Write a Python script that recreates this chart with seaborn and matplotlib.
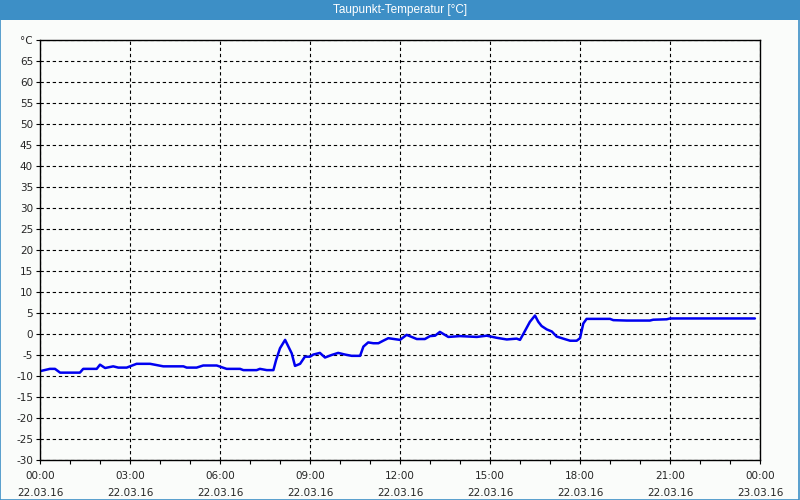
import matplotlib
matplotlib.use("Agg")
import matplotlib.pyplot as plt
import seaborn as sns
import pandas as pd
from matplotlib.patches import Rectangle

# ---- data (hours since 22.03.16 00:00, dew point in °C) ----
hours = [0.03, 0.33, 0.5, 0.67, 1.33, 1.44, 1.89, 2.0, 2.17, 2.44, 2.61, 2.89, 3.0,
         3.22, 3.67, 4.11, 4.78, 4.89, 5.22, 5.44, 5.89, 6.22, 6.67, 6.78, 7.22,
         7.33, 7.56, 7.78, 7.87, 8.0, 8.17, 8.39, 8.5, 8.67, 8.83, 9.0, 9.11, 9.33,
         9.5, 9.72, 9.94, 10.17, 10.39, 10.67, 10.78, 10.94, 11.11, 11.28, 11.44,
         11.61, 12.0, 12.22, 12.56, 12.83, 13.0, 13.17, 13.33, 13.61, 14.0, 14.56,
         14.89, 15.22, 15.56, 15.89, 16.0, 16.11, 16.33, 16.5, 16.61, 16.72, 16.89,
         17.06, 17.22, 17.44, 17.67, 17.89, 18.0, 18.11, 18.22, 19.0, 19.11, 19.56,
         20.33, 20.44, 20.89, 21.0, 23.83]
dewpoint = [-8.8, -8.3, -8.3, -9.2, -9.2, -8.3, -8.3, -7.3, -8.1, -7.7, -8.0, -8.0, -7.7,
            -7.1, -7.1, -7.7, -7.7, -8.0, -8.0, -7.5, -7.5, -8.3, -8.3, -8.6, -8.6,
            -8.3, -8.6, -8.6, -6.2, -3.4, -1.4, -4.6, -7.6, -7.1, -5.4, -5.4, -4.9, -4.5,
            -5.6, -5.0, -4.5, -4.9, -5.2, -5.2, -3.0, -2.0, -2.2, -2.2, -1.6,
            -1.0, -1.4, -0.2, -1.2, -1.2, -0.5, -0.4, 0.5, -0.7, -0.5, -0.7,
            -0.4, -0.9, -1.3, -1.1, -1.4, 0.0, 2.9, 4.4, 2.9, 1.9, 1.1,
            0.6, -0.6, -1.1, -1.6, -1.6, -1.0, 2.5, 3.6, 3.6, 3.3, 3.2,
            3.2, 3.4, 3.5, 3.7, 3.7]

xtick_pos = [0, 3, 6, 9, 12, 15, 18, 21, 24]
xtick_labels = ["00:00\n22.03.16", "03:00\n22.03.16", "06:00\n22.03.16",
                "09:00\n22.03.16", "12:00\n22.03.16", "15:00\n22.03.16",
                "18:00\n22.03.16", "21:00\n22.03.16", "00:00\n23.03.16"]
ytick_pos = list(range(-30, 75, 5))
ytick_labels = [str(v) for v in range(-30, 70, 5)] + ["°C"]
title = "Taupunkt-Temperatur [°C]"

df = pd.DataFrame({"h": hours, "t": dewpoint})

sns.set_style("white")
plt.rcParams["font.family"] = ["DejaVu Sans"]

bg = "#fafcfa"
fig = plt.figure(figsize=(8, 5), dpi=100, facecolor=bg)
ax = fig.add_axes([0.05, 0.08, 0.9, 0.84], facecolor=bg)

sns.lineplot(data=df, x="h", y="t", ax=ax, color="#0000f0", linewidth=1.8)

ax.set_xlim(0, 24)
ax.set_ylim(-30, 70)
ax.set_xticks(xtick_pos)
ax.set_xticklabels(xtick_labels, fontsize=7.5, linespacing=1.9)
ax.set_xticks(range(0, 25), minor=True)
ax.set_yticks(ytick_pos)
ax.set_yticklabels(ytick_labels, fontsize=7.5)
ax.set_xlabel("")
ax.set_ylabel("")

ax.grid(True, which="major", color="black", linestyle=(0, (3, 2.5)), linewidth=0.8)
ax.tick_params(axis="x", which="both", direction="out", length=3, width=0.8,
               color="black", pad=5, bottom=True)
ax.tick_params(axis="y", which="major", direction="out", length=3, width=0.8,
               color="black", pad=2, left=True)
for s in ax.spines.values():
    s.set_visible(True)
    s.set_color("black")
    s.set_linewidth(1.0)

# title bar
fig.patches.append(Rectangle((0, 0.96), 1, 0.04, transform=fig.transFigure,
                             facecolor="#3d8fc6", edgecolor="none", zorder=0))
fig.text(0.5, 0.979, title, ha="center", va="center", color="white",
         fontsize=8.5, family=["Liberation Sans", "DejaVu Sans"])
# outer border
fig.patches.append(Rectangle((0.0006, 0.001), 0.9985, 0.998, transform=fig.transFigure,
                             facecolor="none", edgecolor="#3d8fc6", linewidth=1.2,
                             zorder=5))

fig.savefig("out.png", dpi=100, facecolor=bg)
